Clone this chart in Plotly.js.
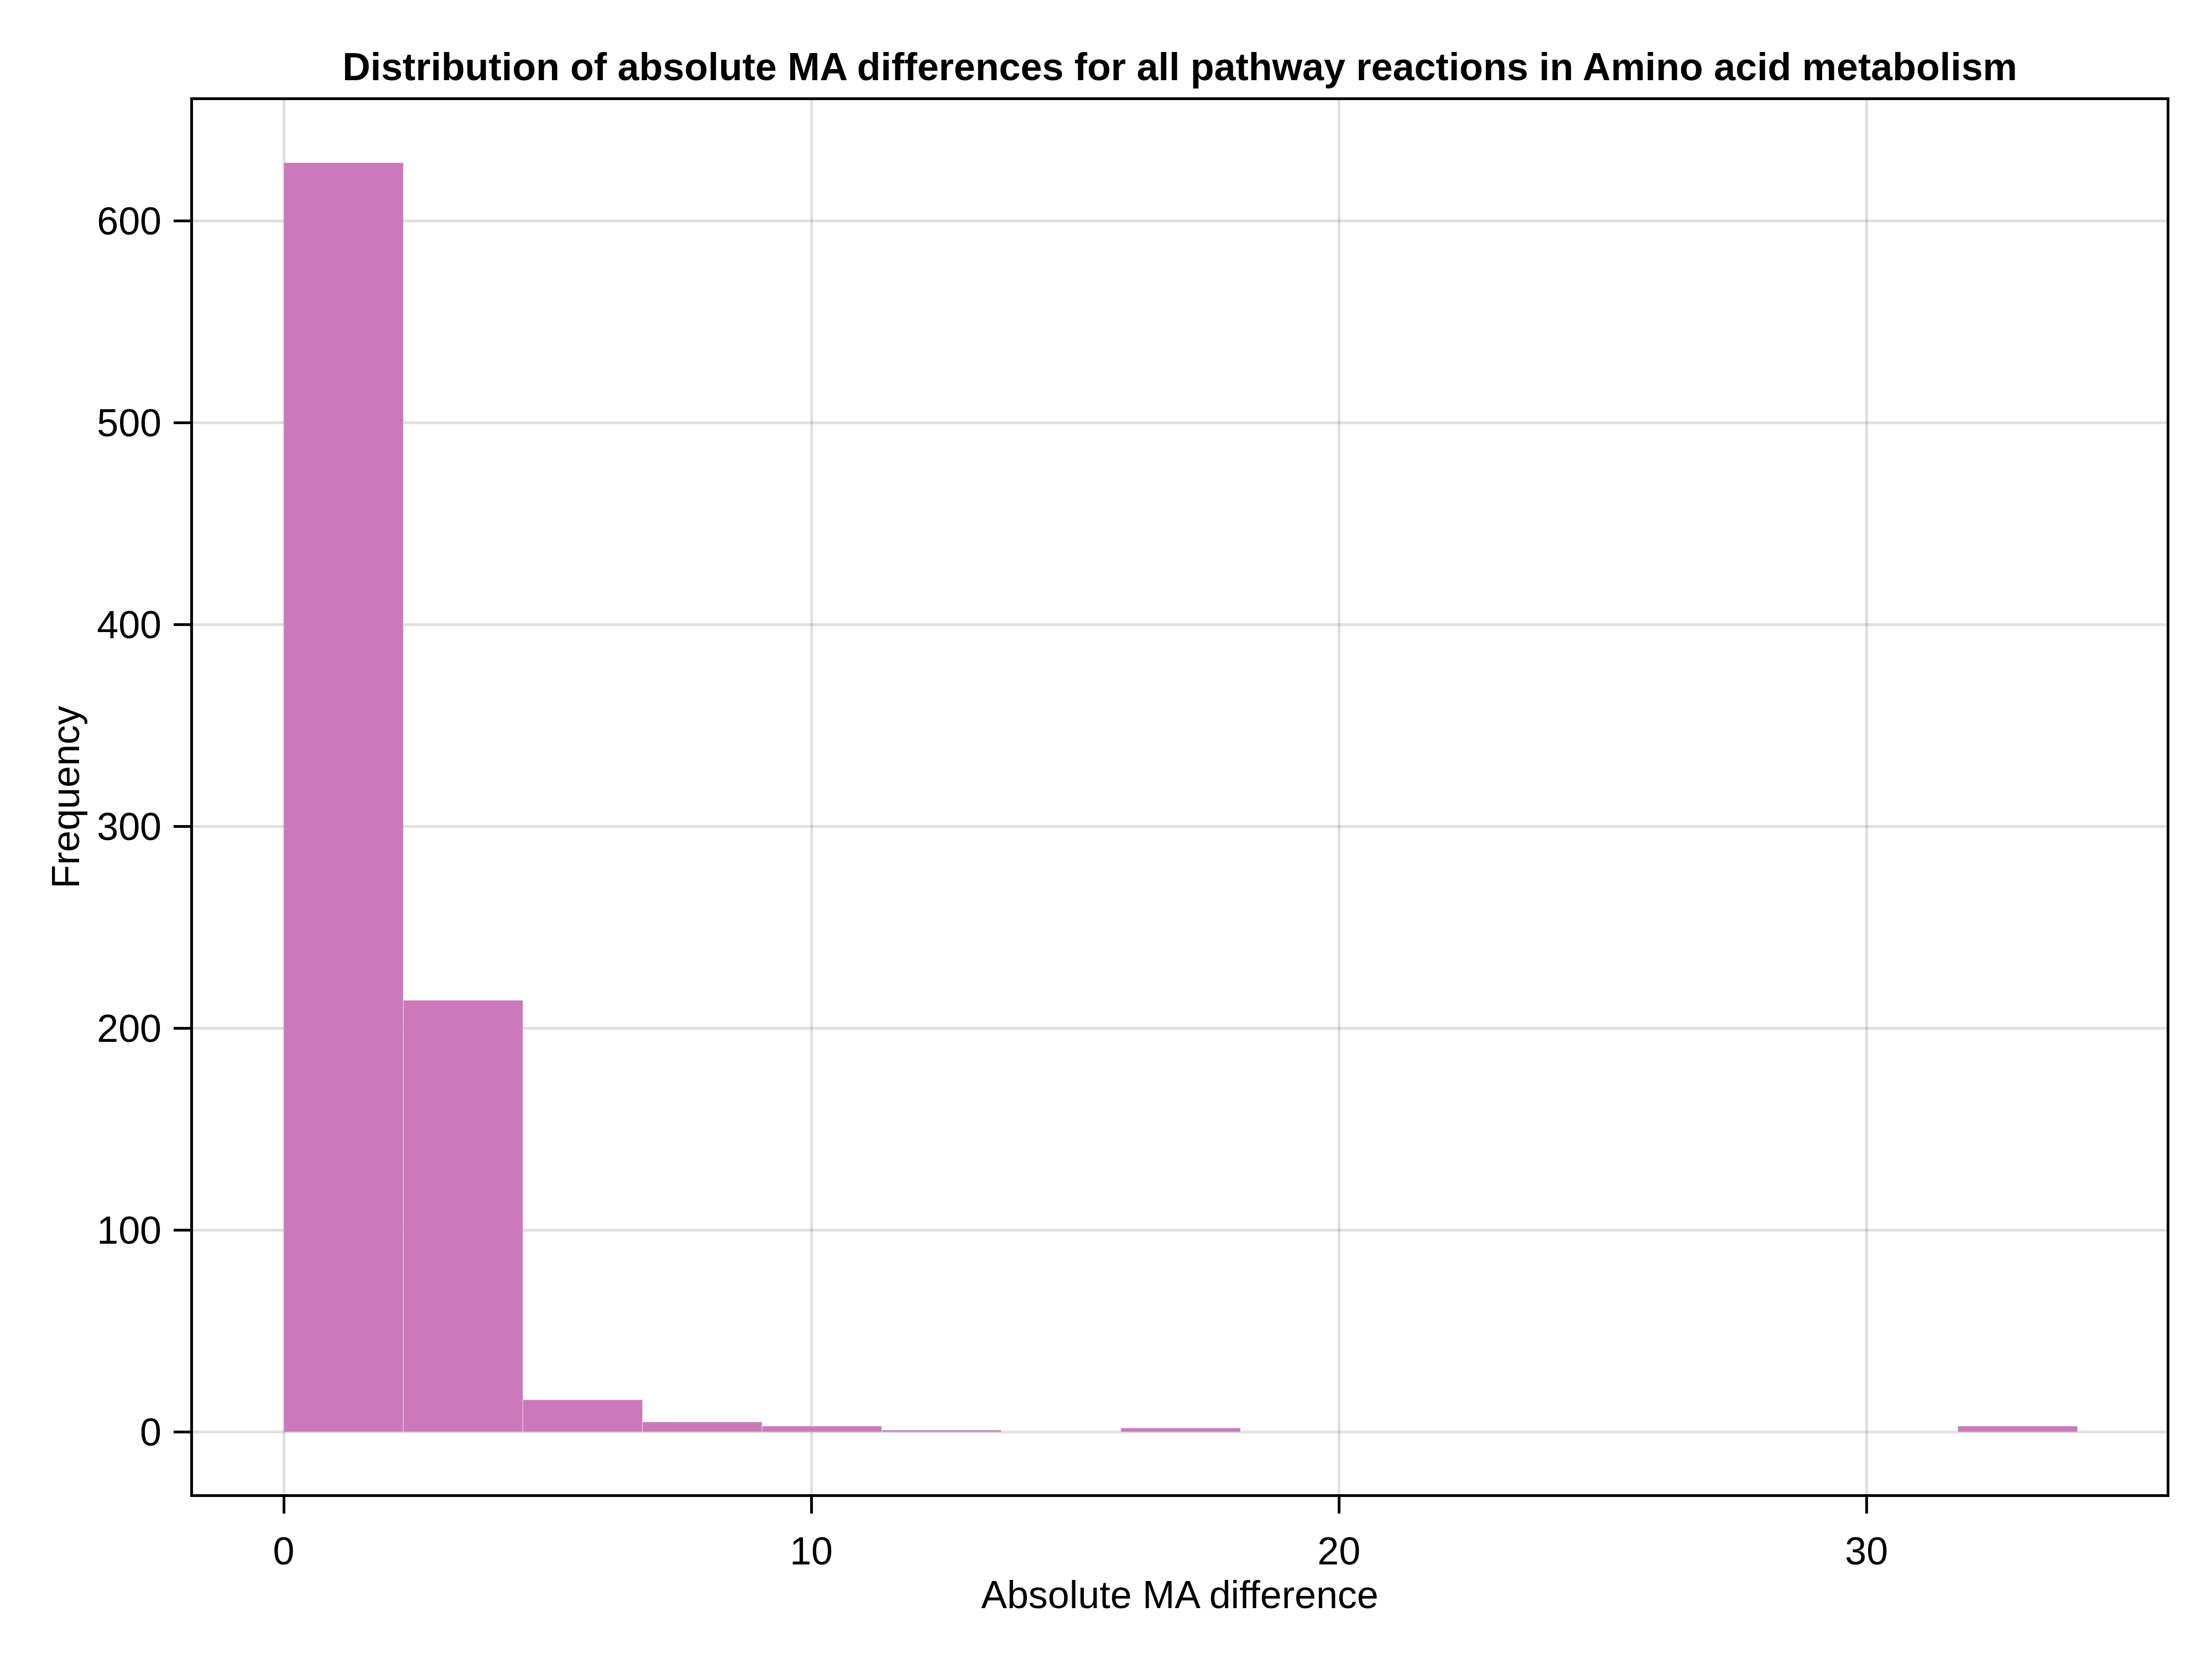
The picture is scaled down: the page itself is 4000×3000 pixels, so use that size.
<!DOCTYPE html>
<html>
<head>
<meta charset="utf-8">
<script src="https://cdn.plot.ly/plotly-3.0.1.min.js"></script>
<style>
  html, body { margin: 0; padding: 0; background: #fff; }
  #plot { width: 4000px; height: 3000px; }
</style>
</head>
<body>
<div id="plot"></div>
<script>
// histogram bins
const binLeft = [0, 2.267, 4.533, 6.8, 9.067, 11.333, 13.6, 15.867, 18.133, 20.4, 22.667, 24.933, 27.2, 29.467, 31.733];
const binWidth = 2.267;
const counts = [629, 214, 16, 5, 3, 1, 0, 2, 0, 0, 0, 0, 0, 0, 3];

const xTicks = [0, 10, 20, 30];
const yTicks = [0, 100, 200, 300, 400, 500, 600];

const titleText = "Distribution of absolute MA differences for all pathway reactions in Amino acid metabolism";
const xLabel = "Absolute MA difference";
const yLabel = "Frequency";

const font = "Liberation Sans, Arial, Helvetica, sans-serif";
const barColor = "rgb(203,121,187)";

let axisStyle = (ticks) => ({
    tickmode: "array",
    tickvals: ticks,
    ticktext: ticks.map(String),
    ticks: "outside",
    ticklen: 30,
    tickwidth: 5,
    tickcolor: "#000",
    showline: true,
    linecolor: "#000",
    linewidth: 5,
    mirror: true,
    showgrid: true,
    gridcolor: "rgba(0,0,0,0.12)",
    gridwidth: 5,
    zeroline: false,
    tickfont: { family: font, size: 70, color: "#000" },
    ticklabelstandoff: 8
});

let xaxis = axisStyle(xTicks);
xaxis.range = [-1.72, 35.69];
xaxis.title = { text: xLabel, font: { family: font, size: 70, color: "#000" }, standoff: 17 };

let yaxis = axisStyle(yTicks);
yaxis.range = [-30.8, 660];
yaxis.title = { text: yLabel, font: { family: font, size: 70, color: "#000" }, standoff: 10 };

Plotly.newPlot("plot", [
    {
        type: "bar",
        x: binLeft,
        y: counts,
        width: binLeft.map(() => binWidth),
        offset: 0,
        marker: { color: barColor, line: { color: "rgba(255,255,255,0.35)", width: 1.5 } },
        hoverinfo: "skip"
    }
], {
    width: 4000,
    height: 3000,
    paper_bgcolor: "#fff",
    plot_bgcolor: "#fff",
    showlegend: false,
    bargap: 0,
    margin: { l: 349, r: 82, t: 181, b: 298, pad: 0 },
    title: {
        text: "<b>" + titleText + "</b>",
        font: { family: font, size: 70, color: "#000" },
        x: 0.5, xanchor: "center", xref: "paper",
        y: 1 - 120 / 3000, yanchor: "middle", yref: "container"
    },
    xaxis: xaxis,
    yaxis: yaxis
}, { staticPlot: true });
</script>
</body>
</html>
